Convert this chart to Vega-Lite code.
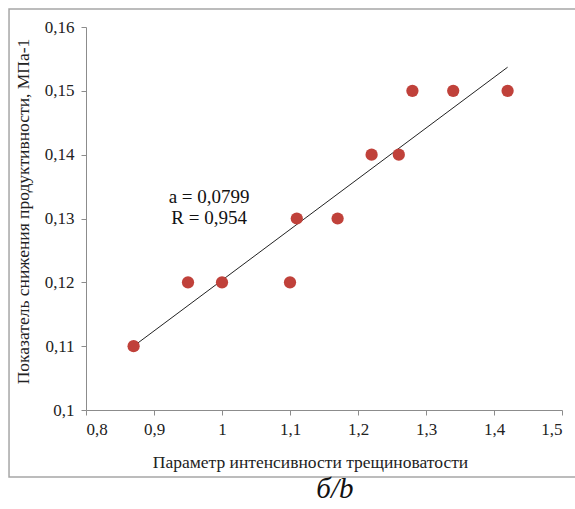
{
  "$schema": "https://vega.github.io/schema/vega-lite/v6.json",
  "autosize": {"type": "none"},
  "width": 476,
  "height": 383,
  "padding": {"left": 86, "top": 27, "right": 13, "bottom": 99},
  "background": "white",
  "config": {
    "view": {"stroke": null},
    "font": "'Liberation Serif', serif",
    "axis": {
      "grid": false,
      "domainColor": "#8c8c8c",
      "tickColor": "#8c8c8c",
      "tickSize": 5,
      "labelFont": "'Liberation Serif', serif",
      "labelFontSize": 17,
      "labelColor": "#222",
      "titleFont": "'Liberation Serif', serif",
      "titleFontSize": 17.5,
      "titleFontWeight": "normal",
      "titleColor": "#222"
    }
  },
  "datasets": {
    "points": [
      {"x": 0.87, "y": 0.11},
      {"x": 0.95, "y": 0.12},
      {"x": 1.0, "y": 0.12},
      {"x": 1.1, "y": 0.12},
      {"x": 1.11, "y": 0.13},
      {"x": 1.17, "y": 0.13},
      {"x": 1.22, "y": 0.14},
      {"x": 1.26, "y": 0.14},
      {"x": 1.28, "y": 0.15},
      {"x": 1.34, "y": 0.15},
      {"x": 1.42, "y": 0.15}
    ],
    "trend": [
      {"x": 0.87, "y": 0.11},
      {"x": 1.42, "y": 0.1537}
    ],
    "notes": [
      {"x": 0.981, "y": 0.13337, "label": "a = 0,0799"},
      {"x": 0.981, "y": 0.13008, "label": "R = 0,954"}
    ],
    "one": [{}]
  },
  "layer": [
    {
      "data": {"name": "one"},
      "mark": {"type": "rect", "fill": null, "stroke": "#a6a6a6", "strokeWidth": 1.5, "clip": false},
      "encoding": {
        "x": {"datum": 0.6868, "type": "quantitative"},
        "x2": {"datum": 1.56},
        "y": {"datum": 0.16282, "type": "quantitative"},
        "y2": {"datum": 0.0895}
      }
    },
    {
      "data": {"name": "trend"},
      "mark": {"type": "line", "color": "#222", "strokeWidth": 1},
      "encoding": {
        "x": {"field": "x", "type": "quantitative"},
        "y": {"field": "y", "type": "quantitative"}
      }
    },
    {
      "data": {"name": "points"},
      "mark": {"type": "circle", "size": 150, "opacity": 1, "color": "#c0413a"},
      "encoding": {
        "x": {
          "field": "x", "type": "quantitative",
          "scale": {"domain": [0.8, 1.5], "nice": false, "zero": false},
          "axis": {"values": [0.8, 0.9, 1.0, 1.1, 1.2, 1.3, 1.4, 1.5], "labelExpr": "replace(format(datum.value, '~g'), '.', ',')", "title": "Параметр интенсивности трещиноватости", "labelPadding": 6, "titlePadding": 16, "titleX": 224}
        },
        "y": {
          "field": "y", "type": "quantitative",
          "scale": {"domain": [0.1, 0.16], "nice": false, "zero": false},
          "axis": {"values": [0.1, 0.11, 0.12, 0.13, 0.14, 0.15, 0.16], "labelExpr": "replace(format(datum.value, '~g'), '.', ',')", "title": "Показатель снижения продуктивности, МПа-1", "titleFontSize": 17.5, "labelPadding": 7, "titlePadding": 12, "titleY": 184}
        }
      }
    },
    {
      "data": {"name": "notes"},
      "mark": {"type": "text", "fontSize": 19, "font": "'Liberation Serif', serif", "color": "#111", "align": "center", "baseline": "middle"},
      "encoding": {
        "x": {"field": "x", "type": "quantitative"},
        "y": {"field": "y", "type": "quantitative"},
        "text": {"field": "label"}
      }
    },
    {
      "data": {"name": "one"},
      "mark": {"type": "text", "fontSize": 29, "font": "'Liberation Serif', serif", "fontStyle": "italic", "color": "#111", "align": "center", "baseline": "alphabetic", "clip": false},
      "encoding": {
        "x": {"datum": 1.166, "type": "quantitative"},
        "y": {"datum": 0.0862, "type": "quantitative"},
        "text": {"value": "б/b"}
      }
    }
  ]
}
